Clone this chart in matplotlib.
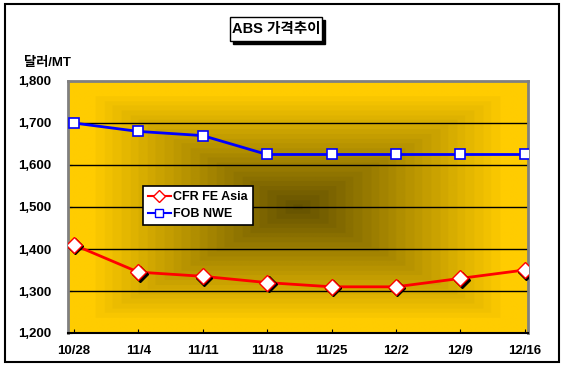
import matplotlib
matplotlib.use("Agg")
import matplotlib.pyplot as plt
import matplotlib.transforms as mtransforms
from matplotlib.patches import Rectangle
import numpy as np

plt.rcParams['font.family'] = ['Liberation Sans', 'Noto Sans CJK KR', 'DejaVu Sans']
plt.rcParams['font.weight'] = 'bold'

dates = ['10/28', '11/4', '11/11', '11/18', '11/25', '12/2', '12/9', '12/16']
cfr_fe_asia = [1410, 1345, 1335, 1320, 1310, 1310, 1330, 1350]
fob_nwe = [1700, 1680, 1670, 1625, 1625, 1625, 1625, 1625]
yticks = [1200, 1300, 1400, 1500, 1600, 1700, 1800]

W, H = 565, 371
fig = plt.figure(figsize=(W / 100, H / 100), dpi=100)
fig.patch.set_facecolor('white')

# outer frame
fig.patches.append(Rectangle((5 / W, 1 - 362 / H), 554 / W, 358 / H, transform=fig.transFigure,
                             fill=False, edgecolor='black', linewidth=1.5))

ax = fig.add_axes([68 / W, 1 - 333 / H, 460 / W, 252 / H])
x = np.arange(len(dates))
xlim = (-0.09, len(dates) - 1 + 0.05)
ylim = (1200, 1800)
ax.set_xlim(xlim)
ax.set_ylim(ylim)

# rectangular "from center" gradient background
n = 300
u = np.linspace(-1, 1, n)
U, V = np.meshgrid(u, u)
d = np.clip(np.maximum(np.abs(U), np.abs(V)) / 0.9, 0, 1)
d = np.round(d * 24) / 24
center = np.array([98, 80, 0]) / 255
edge = np.array([255, 204, 0]) / 255
img = center + (edge - center) * d[..., None]
ax.imshow(img, extent=[xlim[0], xlim[1], ylim[0], ylim[1]], aspect='auto', zorder=0,
          interpolation='bilinear')

for yv in yticks[1:-1]:
    ax.axhline(yv, color='black', linewidth=1, zorder=1)

shadow = mtransforms.offset_copy(ax.transData, fig=fig, x=1.5, y=-1.5, units='dots')
ax.plot(x, cfr_fe_asia, color='red', linewidth=2, zorder=2)
ax.plot(x, cfr_fe_asia, linestyle='none', marker='D', markersize=8, color='black',
        transform=shadow, zorder=3)
ax.plot(x, cfr_fe_asia, linestyle='none', marker='D', markersize=8,
        markerfacecolor='white', markeredgecolor='red', markeredgewidth=1, zorder=4)
ax.plot(x, fob_nwe, color='blue', linewidth=2, zorder=2)
ax.plot(x, fob_nwe, linestyle='none', marker='s', markersize=7,
        markerfacecolor='white', markeredgecolor='blue', markeredgewidth=1.2, zorder=4)

# legend proxies
h1, = ax.plot([], [], color='red', linewidth=1.5, marker='D', markersize=6,
              markerfacecolor='white', markeredgecolor='red')
h2, = ax.plot([], [], color='blue', linewidth=1.5, marker='s', markersize=6,
              markerfacecolor='white', markeredgecolor='blue')
leg = ax.legend([h1, h2], ['CFR FE Asia', 'FOB NWE'], loc='upper left',
                bbox_to_anchor=((143 - 68) / 460, (333 - 186) / 252),
                frameon=True, fancybox=False, framealpha=1, edgecolor='black',
                fontsize=9, handlelength=1.8, handletextpad=0.2, borderpad=0.4,
                labelspacing=0.4, borderaxespad=0)
leg.get_frame().set_linewidth(1.2)

ax.set_xticks(x)
ax.set_xticklabels(dates, fontsize=9.5, fontweight='bold')
ax.set_yticks(yticks)
ax.set_yticklabels([f'{v:,}' for v in yticks], fontsize=9.5, fontweight='bold')
ax.tick_params(axis='x', direction='in', length=3, pad=9)
ax.tick_params(axis='y', direction='in', length=3, pad=12)

for side in ['top', 'right', 'left']:
    ax.spines[side].set_color('#808080')
    ax.spines[side].set_linewidth(2)
ax.spines['bottom'].set_color('black')
ax.spines['bottom'].set_linewidth(1.5)

fig.text(24 / W, 1 - 63 / H, '달러/MT', fontsize=9.5, fontweight='bold', va='center', ha='left')

# title box with shadow
tx0, ty0, tw, th = 230, 17, 92, 24
fig.patches.append(Rectangle(((tx0 + 3) / W, 1 - (ty0 + th + 3) / H), tw / W, th / H,
                             transform=fig.transFigure, facecolor='black', edgecolor='black'))
fig.patches.append(Rectangle((tx0 / W, 1 - (ty0 + th) / H), tw / W, th / H,
                             transform=fig.transFigure, facecolor='white', edgecolor='black',
                             linewidth=1))
fig.text((tx0 + tw / 2) / W, 1 - (ty0 + th / 2) / H, 'ABS 가격추이', fontsize=10.5,
         fontweight='bold', ha='center', va='center')

fig.savefig('out.png', dpi=100, facecolor='white')
